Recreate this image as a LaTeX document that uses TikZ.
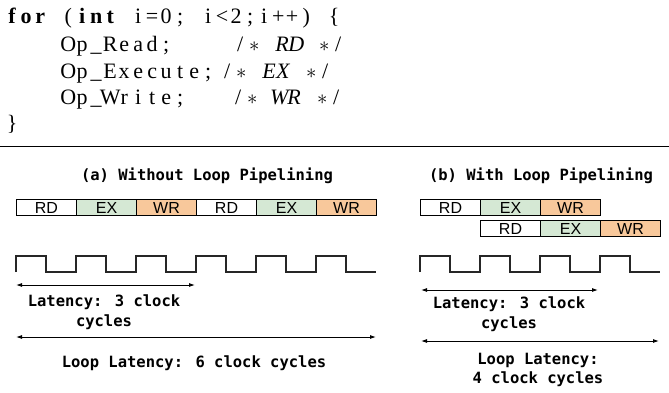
\documentclass[tikz,border=0pt]{standalone}
\usepackage{fontspec}
\setmainfont{Liberation Serif}
\newfontfamily\monofont{DejaVu Sans Mono}
\newfontfamily\boxfont{Liberation Sans}
\usetikzlibrary{arrows.meta}
\definecolor{exgreen}{RGB}{213,232,212}
\definecolor{wrorange}{RGB}{248,200,155}
\newcommand\colchar[1]{\makebox[14pt][c]{#1}}
\newcommand\bchr[1]{\textbf{#1}}
\newcommand\ichr[1]{\textit{#1}}
\def\fixedline#1{\fixedloop#1\relax}
\def\fixedloop#1{\ifx\relax#1\else\colchar{#1}\expandafter\fixedloop\fi}
\tikzset{
  seg/.style={draw=black, line width=1pt, minimum width=60pt, minimum height=16pt,
    inner sep=0pt, anchor=north west, font=\boxfont\fontsize{16}{16}\selectfont},
  rdseg/.style={seg, fill=white},
  exseg/.style={seg, fill=exgreen},
  wrseg/.style={seg, fill=wrorange},
  clk/.style={line width=1.4pt, black!85, line join=miter},
  dimline/.style={line width=0.9pt, {Latex[length=6pt,width=4pt]}-{Latex[length=6pt,width=4pt]}},
  lbl/.style={font=\monofont\bfseries\fontsize{15.5}{20}\selectfont, align=center, inner sep=0pt},
  codeline/.style={anchor=base west, inner sep=0pt, font=\fontsize{22}{26}\selectfont},
}
\begin{document}
\begin{tikzpicture}[x=1pt,y=-1pt]
\useasboundingbox (0,0) rectangle (669,392);
% code
\node[codeline] (c1) at (5,23) {\fixedline{{\bchr f}{\bchr o}{\bchr r}~({\bchr i}{\bchr n}{\bchr t}~i=0;~i<2;i++)~\{}};
\node[codeline] (c2) at (5,51) {\fixedline{~~~~Op\_Read;}};
\node[codeline] (m2) at (233,51) {\fixedline{/{$\ast$}~{\ichr R}{\ichr D}~{$\ast$}/}};
\node[codeline] (c3) at (5,78) {\fixedline{~~~~Op\_Execute;}};
\node[codeline] (m3) at (220,78) {\fixedline{/{$\ast$}~{\ichr E}{\ichr X}~{$\ast$}/}};
\node[codeline] (c4) at (5,104) {\fixedline{~~~~Op\_Write;}};
\node[codeline] (m4) at (231,104) {\fixedline{/{$\ast$}~{\ichr W}{\ichr R}~{$\ast$}/}};
\node[codeline] (c5) at (5,130) {\fixedline{\}}};
% rule
\coordinate (r1) at (0,146);
\coordinate (r2) at (669,146);
\draw[line width=1pt] (r1) -- (r2);
% titles
\node[lbl] (ta) at (207,176) {(a) Without Loop Pipelining};
\node[lbl] (tb) at (541,176) {(b) With Loop Pipelining};
% (a) bar
\node[rdseg] (a1) at (16,199) {RD};
\node[exseg] (a2) at (76,199) {EX};
\node[wrseg] (a3) at (136,199) {WR};
\node[rdseg] (a4) at (196,199) {RD};
\node[exseg] (a5) at (256,199) {EX};
\node[wrseg] (a6) at (316,199) {WR};
% (b) bars
\node[rdseg] (b1) at (420,199) {RD};
\node[exseg] (b2) at (480,199) {EX};
\node[wrseg] (b3) at (540,199) {WR};
\node[rdseg] (b4) at (480,220) {RD};
\node[exseg] (b5) at (540,220) {EX};
\node[wrseg] (b6) at (600,220) {WR};
% clocks
\draw[clk] (16,272) foreach \k in {1,...,6}{ -- ++(0,-16) -- ++(30,0) -- ++(0,16) -- ++(30,0)};
\draw[clk] (420,272) foreach \k in {1,...,4}{ -- ++(0,-16) -- ++(30,0) -- ++(0,16) -- ++(30,0)};
% (a) dimensions
\coordinate (la1) at (16,285);
\coordinate (la2) at (195,285);
\draw[dimline] (la1) -- (la2);
\node[lbl] (lta) at (104,312) {Latency: 3 clock\\cycles};
\coordinate (lla1) at (16,337);
\coordinate (lla2) at (376,337);
\draw[dimline] (lla1) -- (lla2);
\node[lbl] (llta) at (194,363) {Loop Latency: 6 clock cycles};
% (b) dimensions
\coordinate (lb1) at (421,290);
\coordinate (lb2) at (598,290);
\draw[dimline] (lb1) -- (lb2);
\node[lbl] (ltb) at (509,314.5) {Latency: 3 clock\\cycles};
\coordinate (llb1) at (421,341);
\coordinate (llb2) at (659,341);
\draw[dimline] (llb1) -- (llb2);
\node[lbl, font=\monofont\bfseries\fontsize{15.5}{18.5}\selectfont] (lltb) at (538,370) {Loop Latency:\\4 clock cycles};
\end{tikzpicture}
\end{document}
